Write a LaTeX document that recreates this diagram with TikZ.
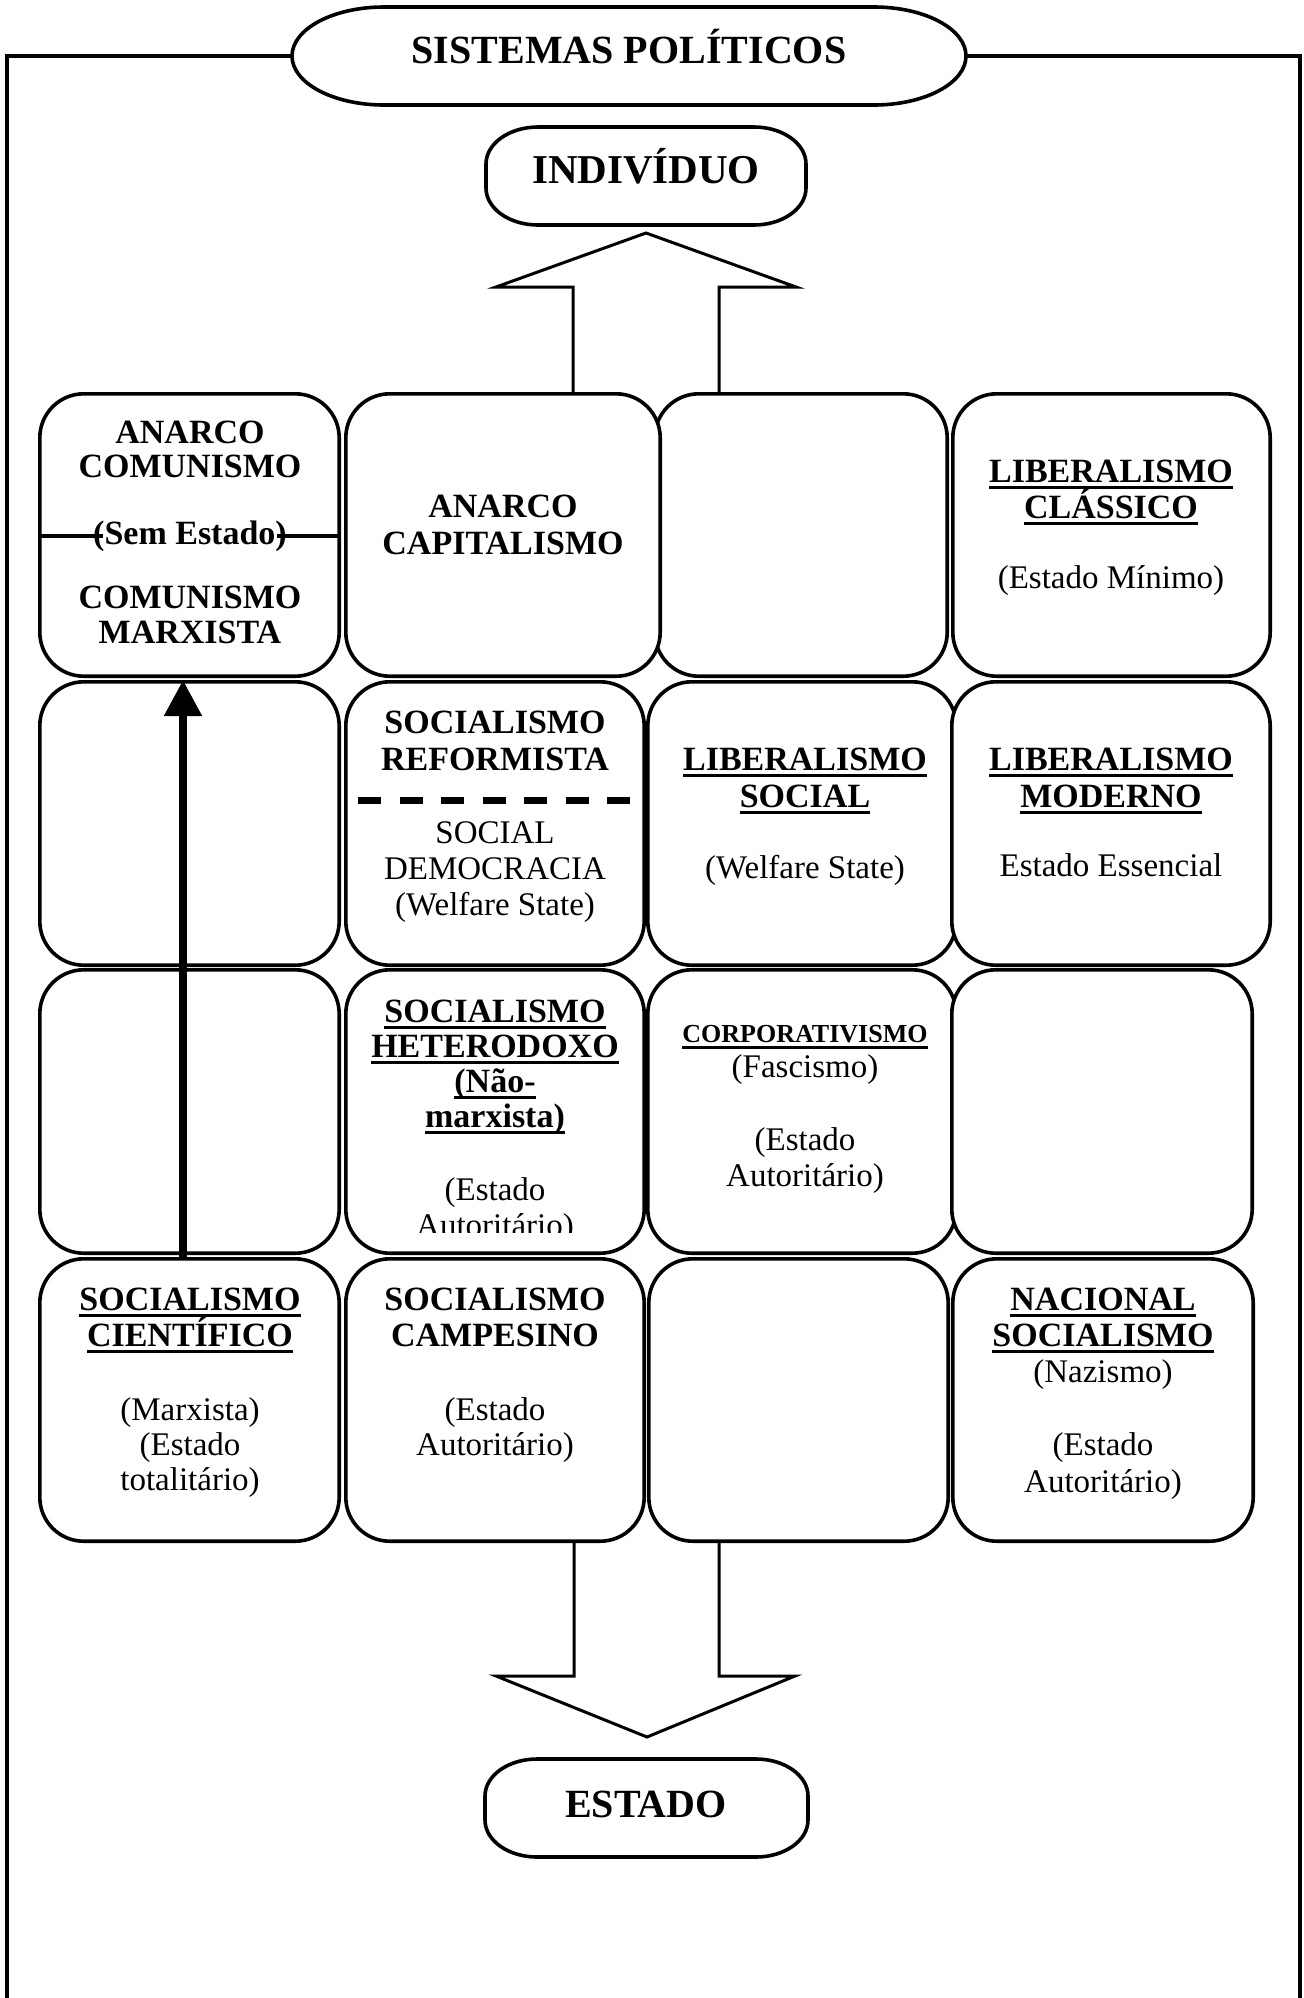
\documentclass[tikz,border=0pt]{standalone}
\usepackage{fontspec}
\setmainfont{Liberation Serif}
\usetikzlibrary{arrows.meta}
\newcommand\ulx[1]{\setbox0=\hbox{#1}\rlap{\rule[-3.6pt]{\wd0}{1.4pt}}\box0}
\tikzset{
  frame/.style={line width=2pt},
  cell/.style={draw, line width=1.8pt, fill=white, rounded corners=22pt, inner sep=0pt},
  bt/.style={font=\fontsize{17}{19}\selectfont\bfseries, anchor=base, inner sep=0pt},
  rt/.style={font=\fontsize{16.5}{19}\selectfont, anchor=base, inner sep=0pt},
  st/.style={font=\fontsize{13}{15}\selectfont\bfseries, anchor=base, inner sep=0pt},
  ht/.style={font=\fontsize{20}{24}\selectfont\bfseries, anchor=base, inner sep=0pt},
  blockarrow/.style={draw, line width=1.5pt, fill=white, line join=miter},
  divider/.style={line width=1.7pt},
  dashdiv/.style={line width=3.5pt, dash pattern=on 11.5pt off 9.25pt},
  bigarrow/.style={line width=4pt, -{Triangle[width=18pt,length=18pt]}}
}
\newcommand\ellrect[6]{\draw[line width=1.8pt, fill=white]
  ({#1+#5},#2) -- ({#3-#5},#2)
  arc[start angle=90,end angle=0,x radius={#5*0.5pt},y radius={#6*0.5pt}] -- (#3,{#4-#6})
  arc[start angle=0,end angle=-90,x radius={#5*0.5pt},y radius={#6*0.5pt}] -- ({#1+#5},#4)
  arc[start angle=-90,end angle=-180,x radius={#5*0.5pt},y radius={#6*0.5pt}] -- (#1,{#2+#6})
  arc[start angle=180,end angle=90,x radius={#5*0.5pt},y radius={#6*0.5pt}] -- cycle;}
\newcommand\cellbox[5]{\node[cell, minimum width={(#4-#2-3.6)*0.5pt}, minimum height={(#5-#3-3.6)*0.5pt}] (#1) at ({(#2+#4)/2},{(#3+#5)/2}) {};}
\begin{document}
\begin{tikzpicture}[x=0.5pt,y=-0.5pt]
\useasboundingbox (0,0) rectangle (1303,1998);
% frame
\draw[frame] (7,1998) -- (7,56) -- (1300,56) -- (1300,1998);
% title
\ellrect{292}{7}{966}{105}{92}{49}
\node[ht] (title) at (629,63) {SISTEMAS POLÍTICOS};
% individuo
\ellrect{486}{127}{806}{225}{52}{37}
\node[ht, font=\fontsize{20.5}{24}\selectfont\bfseries] (indiv) at (646,183) {INDIVÍDUO};
% estado
\ellrect{485}{1759}{808}{1857}{52}{37}
\node[ht] (estado) at (646,1817) {ESTADO};
% block arrows
\draw[blockarrow] (573,394) -- (573,287) -- (496,287) -- (646,233) -- (796,287) -- (719,287) -- (719,394);
\draw[blockarrow] (574,1541) -- (574,1676) -- (496,1676) -- (647,1737) -- (795,1676) -- (719,1676) -- (719,1541);
% row 1
\cellbox{b11}{38}{392}{341}{678}
\cellbox{b13}{653}{392}{949}{678}
\cellbox{b12}{344}{392}{662}{678}
\cellbox{b14}{951}{392}{1272}{678}
% row 2
\cellbox{b21}{38}{680}{341}{967}
\cellbox{b22}{344}{680}{646}{967}
\cellbox{b23}{646}{680}{958}{967}
\cellbox{b24}{950}{680}{1272}{967}
% row 3
\cellbox{b31}{38}{968}{341}{1255}
\cellbox{b32}{344}{968}{646}{1255}
\cellbox{b33}{646}{968}{958}{1255}
\cellbox{b34}{950}{968}{1254}{1255}
% row 4
\cellbox{b41}{38}{1257}{341}{1543}
\cellbox{b42}{344}{1257}{646}{1543}
\cellbox{b43}{647}{1257}{950}{1543}
\cellbox{b44}{951}{1257}{1255}{1543}
% b11
\node[bt] (t11a) at (190,443) {ANARCO};
\node[bt] (t11b) at (190,477) {COMUNISMO};
\coordinate (semline) at (190,536);
\draw[divider] (b11.west |- semline) -- (b11.east |- semline);
\node[bt, fill=white, inner xsep=0.6pt] (t11c) at (190,544) {\llap{(}Sem Estado\rlap{)}};
\node[bt] (t11d) at (190,608) {COMUNISMO};
\node[bt] (t11e) at (190,643) {MARXISTA};
% b12
\node[bt] (t12a) at (503,517) {ANARCO};
\node[bt] (t12b) at (503,554) {CAPITALISMO};
% b14
\node[bt] (t14a) at (1111,482) {\ulx{LIBERALISMO}};
\node[bt] (t14b) at (1111,518) {\ulx{CLÁSSICO}};
\node[rt] (t14c) at (1111,588) {(Estado Mínimo)};
% b22
\node[bt] (t22a) at (495,733) {SOCIALISMO};
\node[bt] (t22b) at (495,770) {REFORMISTA};
\coordinate (dashL) at (358,800);
\coordinate (dashR) at (631,800);
\draw[dashdiv] (dashL) -- (dashR);
\node[rt] (t22c) at (495,843) {SOCIAL};
\node[rt] (t22d) at (495,879) {DEMOCRACIA};
\node[rt] (t22e) at (495,915) {(Welfare State)};
% b23
\node[bt] (t23a) at (805,770) {\ulx{LIBERALISMO}};
\node[bt] (t23b) at (805,807) {\ulx{SOCIAL}};
\node[rt] (t23c) at (805,878) {(Welfare State)};
% b24
\node[bt] (t24a) at (1111,770) {\ulx{LIBERALISMO}};
\node[bt] (t24b) at (1111,807) {\ulx{MODERNO}};
\node[rt] (t24c) at (1111,876) {Estado Essencial};
% b32
\node[bt] (t32a) at (495,1022) {\ulx{SOCIALISMO}};
\node[bt] (t32b) at (495,1057) {\ulx{HETERODOXO}};
\node[bt] (t32c) at (495,1092) {\ulx{(Não-}};
\node[bt] (t32d) at (495,1127) {\ulx{marxista)}};
\node[rt] (t32e) at (495,1200) {(Estado};
\begin{scope}
\clip (344,1100) rectangle (646,1232);
\node[rt] (t32f) at (495,1236) {Autoritário)};
\end{scope}
% b33
\node[st] (t33a) at (805,1042) {\ulx{CORPORATIVISMO}};
\node[rt] (t33b) at (805,1077) {(Fascismo)};
\node[rt] (t33c) at (805,1150) {(Estado};
\node[rt] (t33d) at (805,1186) {Autoritário)};
% b41
\node[bt] (t41a) at (190,1310) {\ulx{SOCIALISMO}};
\node[bt] (t41b) at (190,1346) {\ulx{CIENTÍFICO}};
\node[rt] (t41c) at (190,1420) {(Marxista)};
\node[rt] (t41d) at (190,1455) {(Estado};
\node[rt] (t41e) at (190,1490) {totalitário)};
% b42
\node[bt] (t42a) at (495,1310) {SOCIALISMO};
\node[bt] (t42b) at (495,1346) {CAMPESINO};
\node[rt] (t42c) at (495,1420) {(Estado};
\node[rt] (t42d) at (495,1455) {Autoritário)};
% b44
\node[bt] (t44a) at (1103,1310) {\ulx{NACIONAL}};
\node[bt] (t44b) at (1103,1346) {\ulx{SOCIALISMO}};
\node[rt] (t44c) at (1103,1382) {(Nazismo)};
\node[rt] (t44d) at (1103,1455) {(Estado};
\node[rt] (t44e) at (1103,1492) {Autoritário)};
% thick arrow
\coordinate (ax) at (183,0);
\draw[bigarrow] (b41.north -| ax) -- (b21.north -| ax);
\end{tikzpicture}
\end{document}
